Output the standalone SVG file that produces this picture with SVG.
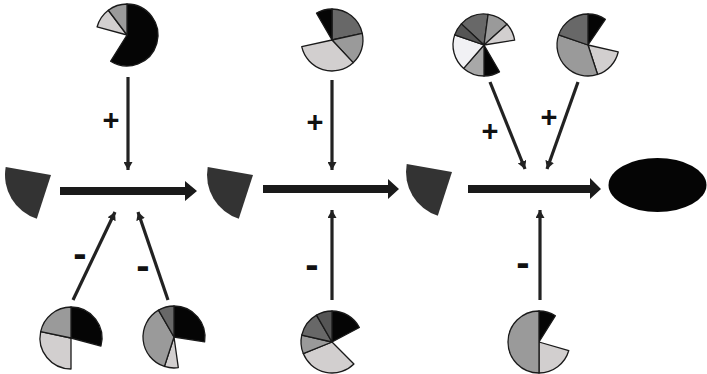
<svg xmlns="http://www.w3.org/2000/svg" width="707" height="374" viewBox="0 0 707 374">
  <style>
    .s { stroke: #1a1a1a; stroke-width: 1.3; stroke-linejoin: round; }
    .k { fill: #050505; }
    .d { fill: #555555; }
    .m { fill: #686868; }
    .g { fill: #9a9a9a; }
    .h { fill: #a8a8a8; }
    .l { fill: #d2cfcf; }
    .w { fill: #f1f1f4; }
    .sub { fill: #333333; }
    .main { fill: #1a1a1a; }
    .conn { stroke: #222222; stroke-width: 3.2; fill: none; marker-end: url(#tip); }
    .lab { font-family: "Liberation Sans", Arial, sans-serif; font-weight: bold; fill: #111111; text-anchor: middle; }
    .plus { font-size: 29px; }
    .minus { font-size: 40px; }
  </style>
  <defs>
    <marker id="tip" markerUnits="userSpaceOnUse" markerWidth="9" markerHeight="9" refX="8" refY="4.5" orient="auto">
      <path d="M0,0 L8,4.5 L0,9 Z" fill="#222222"/>
    </marker>
    <path id="fan" d="M0,0 L-14.21,43.75 A46,46 0 0 1 -45.30,-7.99 Z"/>
  </defs>

  <!-- substrates -->
  <g id="substrate1"><use href="#fan" class="sub" transform="translate(51,175)"/></g>
  <g id="substrate2"><use href="#fan" class="sub" transform="translate(253,175)"/></g>
  <g id="substrate3"><use href="#fan" class="sub" transform="translate(452,172)"/></g>
  <g id="product"><ellipse cx="657.5" cy="185" rx="49" ry="27" fill="#050505"/></g>

  <!-- reaction arrows -->
  <g id="reactions">
    <polygon class="main" points="60,187 185,187 185,181 197,191 185,201 185,195 60,195"/>
    <polygon class="main" points="263,185 388,185 388,179 399,189 388,199 388,193 263,193"/>
    <polygon class="main" points="468,185 590,185 590,178 601,189 590,199 590,193 468,193"/>
  </g>

  <!-- regulator connectors -->
  <g id="connectors">
    <line class="conn" x1="128" y1="77" x2="128" y2="170"/>
    <line class="conn" x1="73" y1="300" x2="115" y2="212"/>
    <line class="conn" x1="168" y1="300" x2="138" y2="212"/>
    <line class="conn" x1="332" y1="80" x2="332" y2="170"/>
    <line class="conn" x1="332" y1="300" x2="332" y2="210"/>
    <line class="conn" x1="490" y1="82" x2="525" y2="169"/>
    <line class="conn" x1="578" y1="82" x2="547" y2="169"/>
    <line class="conn" x1="540" y1="300" x2="540" y2="210"/>
  </g>

  <!-- labels -->
  <g id="labels">
    <text class="lab plus" x="111" y="130">+</text>
    <text class="lab plus" x="315" y="132">+</text>
    <text class="lab plus" x="490" y="141">+</text>
    <text class="lab plus" x="549" y="127">+</text>
    <text class="lab minus" x="80" y="267">-</text>
    <text class="lab minus" x="143" y="279">-</text>
    <text class="lab minus" x="312" y="278">-</text>
    <text class="lab minus" x="523" y="276">-</text>
  </g>

  <!-- regulator pies -->
  <g id="pieA" transform="translate(127,35)">
    <path class="s k" d="M0,0 L0,-31 A31,31 0 1 1 -16.43,26.29 Z"/>
    <path class="s l" d="M0,0 L-29.94,-8.02 A31,31 0 0 1 -18.66,-24.76 Z"/>
    <path class="s g" d="M0,0 L-18.66,-24.76 A31,31 0 0 1 0,-31 Z"/>
  </g>
  <g id="pieB" transform="translate(332,40)">
    <path class="s m" d="M0,0 L0,-31 A31,31 0 0 1 30.27,-6.71 Z"/>
    <path class="s g" d="M0,0 L30.27,-6.71 A31,31 0 0 1 21.14,22.67 Z"/>
    <path class="s l" d="M0,0 L21.14,22.67 A31,31 0 0 1 -30.27,6.71 Z"/>
    <path class="s k" d="M0,0 L-15.5,-26.85 A31,31 0 0 1 0,-31 Z"/>
  </g>
  <g id="pieC" transform="translate(484,45)">
    <path class="s m" d="M0,0 L-22.67,-21.14 A31,31 0 0 1 4.10,-30.73 Z"/>
    <path class="s g" d="M0,0 L4.10,-30.73 A31,31 0 0 1 23.04,-20.74 Z"/>
    <path class="s l" d="M0,0 L23.04,-20.74 A31,31 0 0 1 30.62,-4.85 Z"/>
    <path class="s k" d="M0,0 L15.5,26.85 A31,31 0 0 1 0,31 Z"/>
    <path class="s h" d="M0,0 L0,31 A31,31 0 0 1 -20.34,23.40 Z"/>
    <path class="s w" d="M0,0 L-20.34,23.40 A31,31 0 0 1 -29.31,-10.09 Z"/>
    <path class="s d" d="M0,0 L-29.31,-10.09 A31,31 0 0 1 -22.67,-21.14 Z"/>
  </g>
  <g id="pieD" transform="translate(588,45)">
    <path class="s k" d="M0,0 L0,-31 A31,31 0 0 1 17.34,-25.70 Z"/>
    <path class="s l" d="M0,0 L30.21,6.98 A31,31 0 0 1 9.58,29.48 Z"/>
    <path class="s g" d="M0,0 L9.58,29.48 A31,31 0 0 1 -29.31,-10.09 Z"/>
    <path class="s m" d="M0,0 L-29.31,-10.09 A31,31 0 0 1 0,-31 Z"/>
  </g>
  <g id="pieE" transform="translate(71,338)">
    <path class="s k" d="M0,0 L0,-31 A31,31 0 0 1 29.94,8.02 Z"/>
    <path class="s l" d="M0,0 L0,31 A31,31 0 0 1 -30.32,-6.44 Z"/>
    <path class="s g" d="M0,0 L-30.32,-6.44 A31,31 0 0 1 0,-31 Z"/>
  </g>
  <g id="pieF" transform="translate(174,337)">
    <path class="s k" d="M0,0 L0,-31 A31,31 0 0 1 30.62,4.85 Z"/>
    <path class="s l" d="M0,0 L4.31,30.70 A31,31 0 0 1 -9.58,29.48 Z"/>
    <path class="s g" d="M0,0 L-9.58,29.48 A31,31 0 0 1 -15.5,-26.85 Z"/>
    <path class="s m" d="M0,0 L-15.5,-26.85 A31,31 0 0 1 0,-31 Z"/>
  </g>
  <g id="pieG" transform="translate(332,342)">
    <path class="s k" d="M0,0 L0,-31 A31,31 0 0 1 27.37,-14.55 Z"/>
    <path class="s l" d="M0,0 L21.92,21.92 A31,31 0 0 1 -28.74,11.61 Z"/>
    <path class="s g" d="M0,0 L-28.74,11.61 A31,31 0 0 1 -30.21,-6.98 Z"/>
    <path class="s m" d="M0,0 L-30.21,-6.98 A31,31 0 0 1 -15.5,-26.85 Z"/>
    <path class="s d" d="M0,0 L-15.5,-26.85 A31,31 0 0 1 0,-31 Z"/>
  </g>
  <g id="pieH" transform="translate(539,342)">
    <path class="s k" d="M0,0 L0,-31 A31,31 0 0 1 16.43,-26.29 Z"/>
    <path class="s l" d="M0,0 L29.80,8.54 A31,31 0 0 1 0,31 Z"/>
    <path class="s g" d="M0,0 L0,31 A31,31 0 0 1 0,-31 Z"/>
  </g>
</svg>
